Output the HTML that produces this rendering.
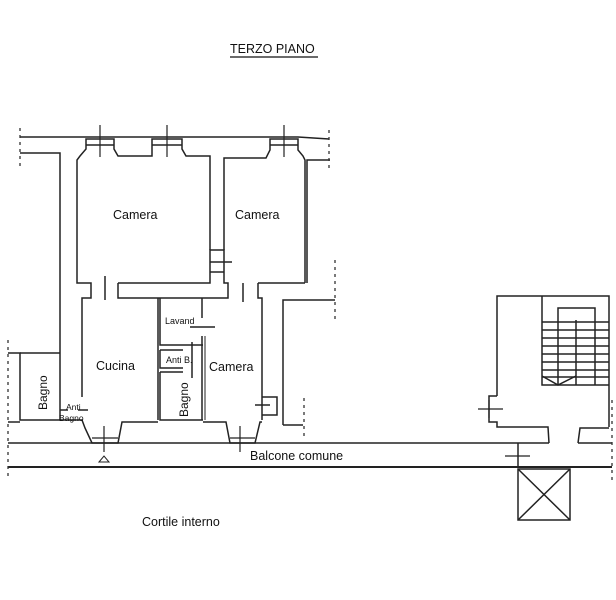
<!DOCTYPE html>
<html><head><style>
html,body{margin:0;padding:0;background:#fff;width:616px;height:600px;overflow:hidden}
svg{display:block}
text{font-family:"Liberation Sans",sans-serif;fill:#111}
</style></head><body>
<svg width="616" height="600" viewBox="0 0 616 600" xmlns="http://www.w3.org/2000/svg">
<text x="230" y="53" font-size="12.5">TERZO PIANO</text>
<line x1="230" y1="57" x2="318" y2="57" stroke="#111" stroke-width="1.2"/>
<g fill="none" stroke="#222" stroke-width="1.5">
<polyline points="20,137 86,137 114,137 152,137 182,137 270,137 298,137 329,139"/>
<polyline points="20,153 60,153 60,397"/>
<polyline points="77,180 77,160 80,156 86,149 86,139 114,139 114,149 118,156 152,156 152,139 182,139 182,149 186,156 210,156 210,250"/>
<polyline points="224,250 224,158 266,158 270,150 270,139 298,139 298,150 303,156 305,160 305,283"/>
<polyline points="307,283 307,160 330,160"/>
<line x1="86" y1="145" x2="114" y2="145"/><line x1="152" y1="145" x2="182" y2="145"/><line x1="270" y1="145" x2="298" y2="145"/>
<polyline points="77,180 77,283 91,283 91,298 82,298 82,397"/>
<line x1="60" y1="397" x2="60" y2="420"/>
<line x1="105" y1="276" x2="105" y2="300"/>
<polyline points="118,283 210,283 210,250 224,250 224,283 228,283 228,298 118,298 118,283"/>
<line x1="210" y1="262" x2="232" y2="262"/><line x1="210" y1="272" x2="224" y2="272"/>
<line x1="243" y1="283" x2="243" y2="302"/>
<polyline points="258,283 305,283"/>
<polyline points="258,283 258,298 262,298 262,420"/>
<polyline points="283,425 283,300 335,300"/>
<polyline points="158,298 158,420"/>
<polyline points="160,298 160,345 203,345"/>
<line x1="202" y1="298" x2="202" y2="318"/>
<line x1="190" y1="327" x2="215" y2="327"/>
<polyline points="160,350 160,368 183,368"/>
<polyline points="183,350 160,350"/>
<polyline points="160,372 183,372"/>
<polyline points="160,372 160,420 203,420"/>
<line x1="202" y1="336" x2="202" y2="420"/><line x1="205" y1="336" x2="205" y2="420" stroke-width="1"/>
<line x1="192" y1="342" x2="192" y2="378"/>
<polyline points="262,397 277,397 277,415 262,415"/>
<line x1="255" y1="405" x2="270" y2="405"/>
<polyline points="8,353 20,353 20,420 60,420"/>
<line x1="20" y1="353" x2="60" y2="353"/>
<line x1="60" y1="410" x2="68" y2="410"/><line x1="78" y1="410" x2="88" y2="410"/>
<polyline points="8,422 20,422"/>
<polyline points="60,420 82,420 85,428 92,443 118,443 122,422 158,422"/>
<polyline points="203,422 226,422 230,443 255,443 260,422 262,422"/>
<polyline points="283,425 303,425"/>
<line x1="8" y1="443" x2="549" y2="443"/>
<line x1="578" y1="443" x2="612" y2="443"/>
<line x1="8" y1="467" x2="612" y2="467" stroke-width="2"/>
<polyline points="518,443 518,468"/>
<!-- stair block -->
<polyline points="497,396 497,296 609,296 609,427"/>
<polyline points="497,396 489,396 489,422 497,422 497,427 548,427 549,443"/>
<polyline points="578,443 580,428 609,428"/>
<polyline points="542,296 542,385 609,385"/>
<polyline points="558,385 558,308 595,308 595,385"/>
<line x1="576" y1="320" x2="576" y2="385"/>
<line x1="542" y1="322" x2="609" y2="322"/><line x1="542" y1="330" x2="609" y2="330"/>
<line x1="542" y1="338" x2="609" y2="338"/><line x1="542" y1="346" x2="609" y2="346"/>
<line x1="542" y1="354" x2="609" y2="354"/><line x1="542" y1="362" x2="609" y2="362"/>
<line x1="542" y1="370" x2="609" y2="370"/><line x1="542" y1="377" x2="609" y2="377"/>
<polyline points="542,376 558,385 576,376"/>
<rect x="518" y="469" width="52" height="51"/>
<line x1="518" y1="469" x2="570" y2="520"/><line x1="570" y1="469" x2="518" y2="520"/>
</g>
<g stroke="#222" stroke-width="1.2">
<line x1="100" y1="125" x2="100" y2="157"/><line x1="167" y1="125" x2="167" y2="157"/><line x1="284" y1="125" x2="284" y2="157"/>
<line x1="104" y1="426" x2="104" y2="452"/><line x1="92" y1="438" x2="118" y2="438"/>
<line x1="240" y1="426" x2="240" y2="452"/><line x1="230" y1="438" x2="255" y2="438"/>
<line x1="489" y1="400" x2="489" y2="418"/><line x1="478" y1="409" x2="503" y2="409"/>
<line x1="505" y1="456" x2="530" y2="456"/>
</g>
<g stroke="#333" stroke-width="1.3" stroke-dasharray="3,4" fill="none">
<line x1="20" y1="128" x2="20" y2="170"/>
<line x1="329" y1="130" x2="329" y2="170"/>
<line x1="335" y1="260" x2="335" y2="320"/>
<line x1="8" y1="340" x2="8" y2="480"/>
<line x1="304" y1="398" x2="304" y2="440"/>
<line x1="612" y1="400" x2="612" y2="480"/>
</g>
<path d="M99,462 L104,456 L109,462 Z" fill="none" stroke="#222"/>
<text x="113" y="219" font-size="12.5">Camera</text>
<text x="235" y="219" font-size="12.5">Camera</text>
<text x="165" y="324" font-size="9">Lavand</text>
<text x="166" y="363" font-size="9">Anti B.</text>
<text x="96" y="370" font-size="12.5">Cucina</text>
<text x="209" y="371" font-size="12.5">Camera</text>
<text x="66" y="410" font-size="8.5">Anti</text>
<text x="59" y="411" font-size="8.5" dy="10">Bagno</text>
<text transform="translate(47,410) rotate(-90)" font-size="12">Bagno</text>
<text transform="translate(188,417) rotate(-90)" font-size="12">Bagno</text>
<text x="250" y="460" font-size="12.5">Balcone comune</text>
<text x="142" y="526" font-size="12.5">Cortile interno</text>
</svg>
</body></html>
